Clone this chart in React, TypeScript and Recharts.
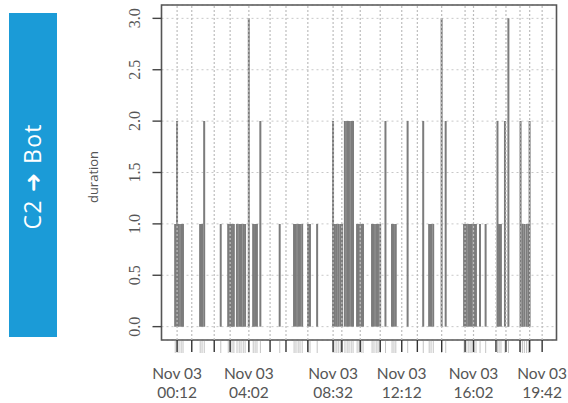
import {
  Bar,
  CartesianGrid,
  ComposedChart,
  ReferenceArea,
  ReferenceLine,
  XAxis,
  YAxis,
} from "recharts";

// event times, minutes after midnight on Nov 03
const eventMinutes = [
  6, 12, 18, 25, 31, 86, 92, 99, 152, 176, 182, 188, 194, 204, 211, 217, 224,
  230, 242, 256, 262, 268, 279, 341, 387, 393, 400, 406, 413, 432, 438, 461,
  512, 518, 524, 530, 536, 541, 550, 557, 563, 570, 576, 589, 595, 602, 608,
  637, 643, 650, 656, 663, 680, 701, 707, 713, 751, 801, 820, 826, 833, 860,
  873, 932, 938, 945, 951, 957, 964, 970, 983, 1001, 1039, 1044, 1050, 1063,
  1074, 1113, 1119, 1125, 1132, 1138, 1142,
];
const durations = [
  1, 2, 1, 1, 1, 1, 1, 2, 1, 1, 1, 1, 1, 1, 1, 1, 1,
  1, 3, 1, 1, 1, 2, 1, 1, 1, 1, 1, 1, 1, 1, 1,
  2, 1, 1, 1, 1, 1, 2, 2, 2, 2, 2, 1, 1, 1, 1,
  1, 1, 1, 1, 1, 2, 1, 1, 1, 2, 2, 1, 1, 1, 3,
  2, 1, 1, 1, 1, 1, 1, 1, 1, 1, 2, 1, 1, 2,
  3, 2, 1, 1, 1, 1, 2,
];

const gridMinutes = [
  12, 59, 131, 182, 242, 310, 361, 431, 512, 540, 599, 663, 732, 782, 860, 935,
  962, 1034, 1066, 1111, 1142, 1182,
];
const labelMinutes = [12, 242, 512, 732, 962, 1182];
const labelTimes = ["00:12", "04:02", "08:32", "12:12", "16:02", "19:42"];
const labelDay = "Nov 03";
const yTicks = [0, 0.5, 1, 1.5, 2, 2.5, 3];

const data = eventMinutes.map((t, i) => ({ t, duration: durations[i] }));

const xDomain = [-38, 1228];
const yDomain = [-0.13, 3.13];

function Spike(props: any) {
  const { x, y, width, height } = props;
  if (height == null || isNaN(height)) return <g />;
  const cx = x + width / 2;
  return (
    <line x1={cx} x2={cx} y1={y} y2={y + height} stroke="#7c7c7c" strokeWidth={2} />
  );
}

function TimeTick({ x, payload }: any) {
  const i = labelMinutes.indexOf(payload.value);
  if (i < 0) return <g />;
  return (
    <text textAnchor="middle" fill="#555" fontFamily="Lato, sans-serif" fontSize={15.5}>
      <tspan x={x} y={379}>{labelDay}</tspan>
      <tspan x={x} y={398}>{labelTimes[i]}</tspan>
    </text>
  );
}

function DurationTick({ y, payload }: any) {
  return (
    <text
      transform={`translate(140, ${y}) rotate(-90)`}
      textAnchor="middle"
      fill="#555"
      fontFamily="'Liberation Serif', serif"
      fontSize={16}
    >
      {Number(payload.value).toFixed(1)}
    </text>
  );
}

export default function App() {
  return (
    <div style={{ position: "absolute", left: 0, top: 0, width: 568, height: 403, background: "#fff" }}>
      <ComposedChart
        width={568}
        height={403}
        data={data}
        margin={{ top: 5, right: 11.5, bottom: 61, left: 101.5 }}
      >
        <CartesianGrid vertical={false} stroke="#c8c8c8" strokeDasharray="2 3" />
        <XAxis
          xAxisId="minor"
          dataKey="t"
          type="number"
          domain={xDomain}
          allowDataOverflow
          ticks={eventMinutes}
          interval={0}
          tick={() => <g />}
          axisLine={false}
          tickLine={{ stroke: "#c4c4c4" }}
          tickSize={12}
          height={1}
        />
        <XAxis
          dataKey="t"
          type="number"
          domain={xDomain}
          allowDataOverflow
          ticks={gridMinutes}
          interval={0}
          tick={<TimeTick />}
          axisLine={false}
          tickLine={{ stroke: "#333", strokeWidth: 1.4 }}
          tickSize={12}
          height={1}
        />
        <YAxis
          type="number"
          domain={yDomain}
          allowDataOverflow
          ticks={yTicks}
          interval={0}
          tick={<DurationTick />}
          axisLine={false}
          tickLine={{ stroke: "#444", strokeWidth: 1.4 }}
          tickSize={9}
          width={60}
        />
        <Bar dataKey="duration" barSize={2} shape={<Spike />} isAnimationActive={false} />
        {gridMinutes.map((t) => (
          <ReferenceLine key={t} x={t} stroke="#bdbdbd" strokeDasharray="2 2" strokeWidth={1.2} />
        ))}
        <ReferenceArea
          x1={xDomain[0]}
          x2={xDomain[1]}
          y1={yDomain[0]}
          y2={yDomain[1]}
          fill="none"
          stroke="#555"
          strokeWidth={1.6}
          ifOverflow="visible"
        />
      </ComposedChart>
      <svg
        width={110}
        height={403}
        style={{ position: "absolute", left: 0, top: 0 }}
      >
        <rect x={9} y={13} width={48} height={324} fill="#1b9bd7" />
        <text
          transform="translate(41, 177) rotate(-90)"
          textAnchor="middle"
          fill="#fff"
          fontFamily="'Open Sans', 'DejaVu Sans', sans-serif"
          fontSize={23}
          textLength={105}
          lengthAdjust="spacing"
        >
          C2 ➜ Bot
        </text>
        <text
          transform="translate(98, 177) rotate(-90)"
          textAnchor="middle"
          fill="#555"
          fontFamily="'Open Sans', sans-serif"
          fontSize={13}
        >
          duration
        </text>
      </svg>
    </div>
  );
}
